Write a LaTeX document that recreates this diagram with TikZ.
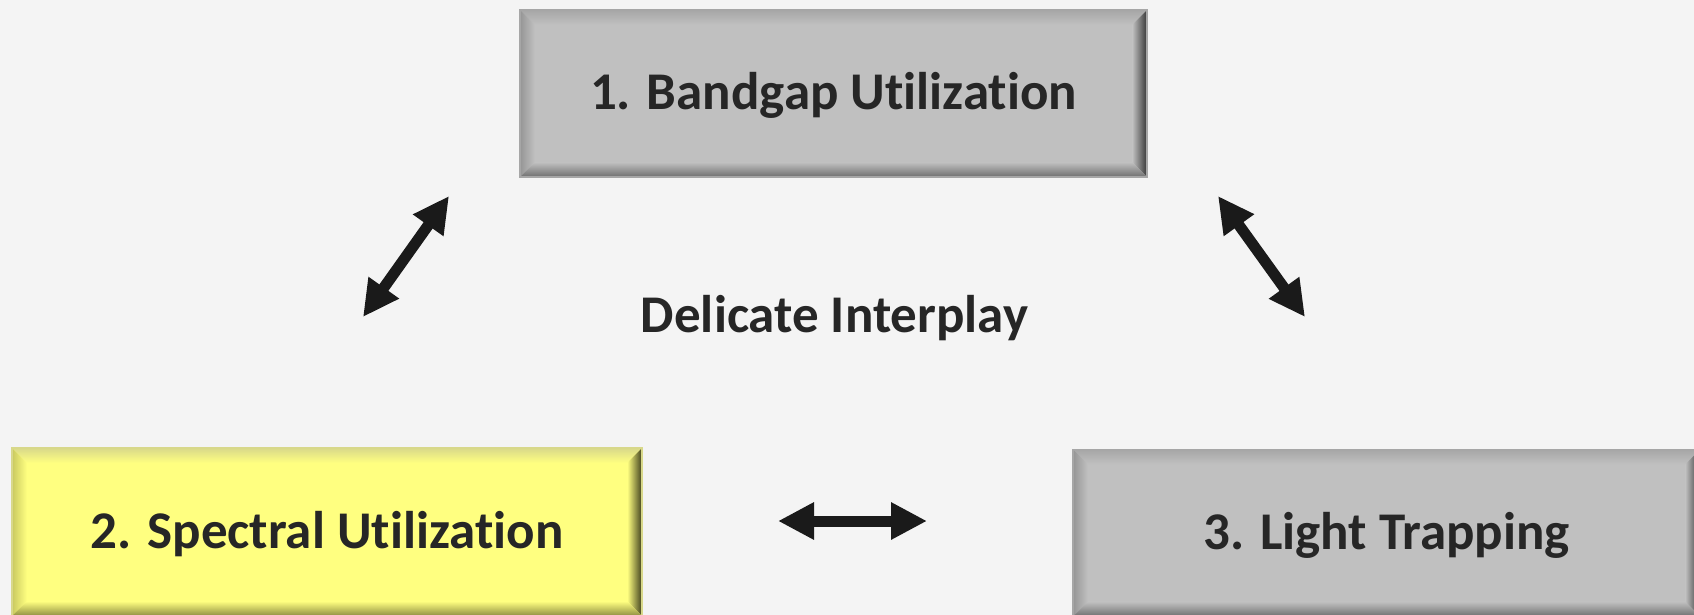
\documentclass[tikz,border=0pt]{standalone}
\usepackage{fontspec}
\setmainfont[Ligatures=NoCommon, RawFeature=-liga]{Carlito}
\usetikzlibrary{calc,arrows.meta}

\definecolor{pagebg}{HTML}{F4F4F4}
\definecolor{txt}{HTML}{262626}
\definecolor{arrowc}{HTML}{1A1A1A}
\definecolor{grayface}{HTML}{C0C0C0}
\definecolor{graylite}{HTML}{EEEEEE}
\definecolor{grayedge}{HTML}{A6A6A6}
\definecolor{grayleft}{HTML}{959595}
\definecolor{grayright}{HTML}{353535}
\definecolor{graybot}{HTML}{6E6E6E}
\definecolor{yelface}{HTML}{FFFF80}
\definecolor{yellite}{HTML}{FFFFC8}
\definecolor{yeledge}{HTML}{D8D88A}
\definecolor{yelleft}{HTML}{C8C860}
\definecolor{yelright}{HTML}{3C3C1C}
\definecolor{yelbot}{HTML}{8C8C40}

\tikzset{
  panel/.style={inner sep=0pt, minimum width=627pt, minimum height=167pt},
  label/.style={text=txt, font=\fontsize{53}{62}\selectfont\bfseries},
  twoway/.style={draw=arrowc, line width=11pt,
    {Triangle[length=36pt 0, width=35pt 0]}-{Triangle[length=36pt 0, width=35pt 0]}},
}

% bevelled face behind a panel node: #1 node, #2 face, #3 top light,
% #4 outer top edge, #5 left edge, #6 right edge, #7 bottom edge
\newcommand\bevelpanel[7]{%
  \path (#1.north west) coordinate (nw) (#1.north east) coordinate (ne)
        (#1.south west) coordinate (sw) (#1.south east) coordinate (se);
  \coordinate (inw) at ($(nw)+(15,15)$);
  \coordinate (ine) at ($(ne)+(-15,15)$);
  \coordinate (isw) at ($(sw)+(15,-15)$);
  \coordinate (ise) at ($(se)+(-15,-15)$);
  \fill[#2] (nw) rectangle (se);
  \shade[top color=#4, middle color=#3, bottom color=#2] (nw) -- (ne) -- (ine) -- (inw) -- cycle;
  \shade[left color=#5, right color=#2] (nw) -- (inw) -- (isw) -- (sw) -- cycle;
  \shade[left color=#2, right color=#6] (ne) -- (se) -- (ise) -- (ine) -- cycle;
  \shade[top color=#2, bottom color=#7] (sw) -- (se) -- (ise) -- (isw) -- cycle;
  \draw[#4, line width=1.5pt] (nw) rectangle (se);
}

\begin{document}
\begin{tikzpicture}[x=1pt, y=-1pt]
  \useasboundingbox (0,0) rectangle (1694,615);
  \fill[pagebg] (0,0) rectangle (1694,615);
  \clip (0,0) rectangle (1694,615);

  % panel outlines (positions only)
  \path node[panel] (b1) at (833.5,93.5) {}
        node[panel, minimum width=630pt, minimum height=168pt] (b2) at (327,532) {}
        node[panel] (b3) at (1386.5,533) {};

  \bevelpanel{b1}{grayface}{graylite}{grayedge}{grayleft}{grayright}{graybot}
  \bevelpanel{b2}{yelface}{yellite}{yeledge}{yelleft}{yelright}{yelbot}
  \bevelpanel{b3}{grayface}{graylite}{grayedge}{grayleft}{grayright}{graybot}

  \node[label] at ($(b1)+(0,2)$) {1. Bandgap Utilization};
  \node[label] at ($(b2)+(0,2)$) {2. Spectral Utilization};
  \node[label] at ($(b3)+(0,2)$) {3. Light Trapping};
  \node[label] (mid) at (834.5,318) {Delicate Interplay};

  % arrow end points
  \coordinate (a1) at (449,196);
  \coordinate (a2) at (363,317);
  \coordinate (c1) at (1218,196);
  \coordinate (c2) at (1305,317);
  \coordinate (h1) at (778,521);
  \coordinate (h2) at (927,521);

  \draw[twoway] (a2) -- (a1);
  \draw[twoway] (c1) -- (c2);
  \draw[twoway] (h1) -- (h2);
\end{tikzpicture}
\end{document}
